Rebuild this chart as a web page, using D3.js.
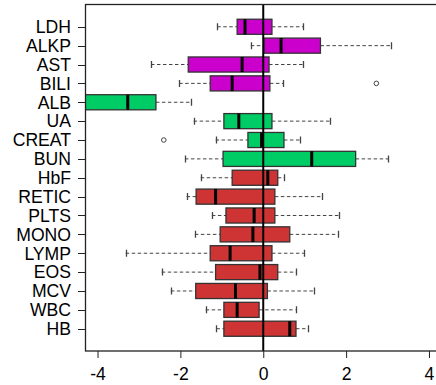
<!DOCTYPE html>
<html>
<head>
  <meta charset="utf-8">
  <script src="https://cdn.jsdelivr.net/npm/d3@7"></script>
  <style>
    body { margin: 0; background: #fff; }
    text { font-family: "Liberation Sans", Arial, sans-serif; fill: #000; }
  </style>
</head>
<body>
<div id="viz"></div>
<script>
// categories from top to bottom
var labels = ["LDH","ALKP","AST","BILI","ALB","UA","CREAT","BUN","HbF","RETIC","PLTS","MONO","LYMP","EOS","MCV","WBC","HB"];
var groups = ["liver","liver","liver","liver","kidney","kidney","kidney","kidney","blood","blood","blood","blood","blood","blood","blood","blood","blood"];
var whiskLo = [-1.11,-0.30,-2.71,-2.03,-5.20,-1.68,-1.15,-1.89,-1.51,-1.85,-1.24,-1.65,-3.32,-2.45,-2.23,-1.39,-1.13];
var q1      = [-0.63, 0.02,-1.81,-1.28,-4.60,-0.95,-0.37,-0.97,-0.75,-1.62,-0.90,-1.04,-1.28,-1.15,-1.63,-0.95,-0.95];
var median  = [-0.44, 0.43,-0.51,-0.75,-3.27,-0.59,-0.04, 1.17, 0.11,-1.15,-0.22,-0.25,-0.80,-0.08,-0.67,-0.63, 0.64];
var q3      = [ 0.21, 1.38, 0.14, 0.16,-2.59, 0.21, 0.50, 2.23, 0.35, 0.28, 0.28, 0.64, 0.21, 0.35, 0.10,-0.10, 0.79];
var whiskHi = [ 0.96, 3.08, 0.96, 0.48,-1.74, 1.60, 0.88, 3.02, 0.50, 1.42, 1.83, 1.80, 0.98, 0.79, 1.23, 0.78, 1.09];
var outliers = [{cat: "BILI", v: 2.73}, {cat: "CREAT", v: -2.40}];
var xTicks = [-4, -2, 0, 2, 4];

var colors = {liver: "#cc00cc", kidney: "#00cc66", blood: "#cf3434"};

var W = 436, H = 385;
var pLeft = 85.5, pRight = 441, pTop = 4.5, pBottom = 351;

var svg = d3.select("#viz").append("svg")
  .attr("width", W).attr("height", H);

var x = d3.scaleLinear().domain([-4.29, 4.29]).range([pLeft, pRight]);
// R style: positions 1..n, range [0.5, n+0.5] padded by 4%
var n = labels.length;
var yPos = d3.scaleLinear().domain([-0.18, n + 1.18]).range([pBottom, pTop]);
function yc(i) { return yPos(n - i); }
var bw = (yPos(0) - yPos(0.8));

var data = labels.map(function(l, i) {
  return {label: l, i: i, g: groups[i], wl: whiskLo[i], q1: q1[i], med: median[i], q3: q3[i], wh: whiskHi[i]};
});

svg.append("clipPath").attr("id", "plotclip")
  .append("rect").attr("x", pLeft).attr("y", pTop).attr("width", pRight - pLeft).attr("height", pBottom - pTop);

var plot = svg.append("g").attr("clip-path", "url(#plotclip)");

var rows = plot.selectAll("g.row").data(data).enter().append("g").attr("class", "row");

// whiskers
rows.append("line")
  .attr("x1", function(d){ return x(d.wl); }).attr("x2", function(d){ return x(d.q1); })
  .attr("y1", function(d){ return yc(d.i); }).attr("y2", function(d){ return yc(d.i); })
  .attr("stroke", "#444").attr("stroke-width", 1).attr("stroke-dasharray", "3.5,2.5");
rows.append("line")
  .attr("x1", function(d){ return x(d.q3); }).attr("x2", function(d){ return x(d.wh); })
  .attr("y1", function(d){ return yc(d.i); }).attr("y2", function(d){ return yc(d.i); })
  .attr("stroke", "#444").attr("stroke-width", 1).attr("stroke-dasharray", "3.5,2.5");
// staples
["wl", "wh"].forEach(function(k) {
  rows.append("line")
    .attr("x1", function(d){ return Math.round(x(d[k])) + 0.5; })
    .attr("x2", function(d){ return Math.round(x(d[k])) + 0.5; })
    .attr("y1", function(d){ return yc(d.i) - 3.5; }).attr("y2", function(d){ return yc(d.i) + 3.5; })
    .attr("stroke", "#444").attr("stroke-width", 1.3);
});

// boxes
rows.append("rect")
  .attr("x", function(d){ return x(d.q1); })
  .attr("width", function(d){ return x(d.q3) - x(d.q1); })
  .attr("y", function(d){ return yc(d.i) - bw / 2; })
  .attr("height", bw)
  .attr("fill", function(d){ return colors[d.g]; })
  .attr("stroke", "#333").attr("stroke-width", 1.3);

// medians
rows.append("line")
  .attr("x1", function(d){ return x(d.med); }).attr("x2", function(d){ return x(d.med); })
  .attr("y1", function(d){ return yc(d.i) - bw / 2; }).attr("y2", function(d){ return yc(d.i) + bw / 2; })
  .attr("stroke", "#000").attr("stroke-width", 3);

// outliers
plot.selectAll("circle.out").data(outliers).enter().append("circle")
  .attr("cx", function(d){ return x(d.v); })
  .attr("cy", function(d){ return yc(labels.indexOf(d.cat)); })
  .attr("r", 2.3)
  .attr("fill", "none").attr("stroke", "#444").attr("stroke-width", 1);

// zero line
svg.append("line")
  .attr("x1", x(0)).attr("x2", x(0)).attr("y1", pTop).attr("y2", pBottom)
  .attr("stroke", "#000").attr("stroke-width", 2);

// frame
svg.append("rect")
  .attr("x", pLeft).attr("y", pTop).attr("width", pRight - pLeft).attr("height", pBottom - pTop)
  .attr("fill", "none").attr("stroke", "#222").attr("stroke-width", 1.3);

// left axis
var yAxis = svg.append("g");
yAxis.selectAll("line").data(data).enter().append("line")
  .attr("x1", pLeft - 7.5).attr("x2", pLeft)
  .attr("y1", function(d){ return Math.round(yc(d.i)) + 0.5; })
  .attr("y2", function(d){ return Math.round(yc(d.i)) + 0.5; })
  .attr("stroke", "#222");
yAxis.selectAll("text").data(data).enter().append("text")
  .attr("x", 71).attr("y", function(d){ return yc(d.i) + 6.3; })
  .attr("text-anchor", "end").style("font-size", "17.6px")
  .text(function(d){ return d.label; });

// bottom axis
var xAxis = d3.axisBottom(x).tickValues(xTicks).tickSize(7).tickPadding(4)
  .tickFormat(function(d){ return d < 0 ? "-" + Math.abs(d) : d; });
var gx = svg.append("g").attr("transform", "translate(0," + pBottom + ")").call(xAxis);
gx.select(".domain").remove();
gx.selectAll(".tick line").attr("stroke", "#222");
gx.selectAll(".tick text").style("font-size", "17.6px")
  .attr("font-family", null).attr("fill", "#000").attr("dy", null).attr("y", 28.5);
</script>
</body>
</html>
